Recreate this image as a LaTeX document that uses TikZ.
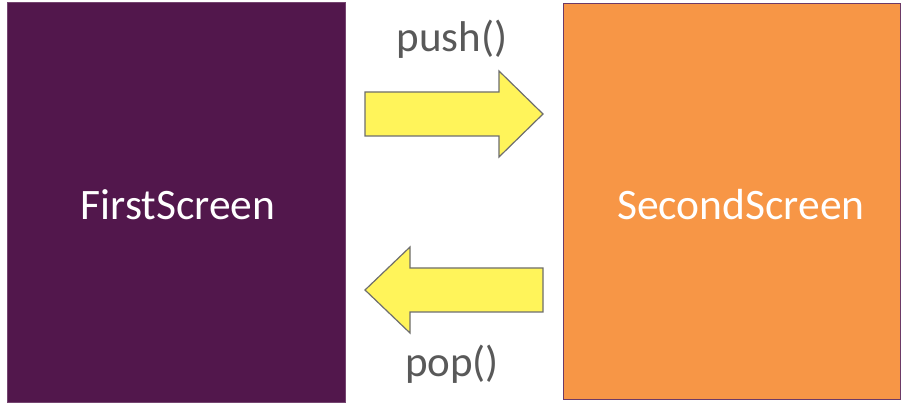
\documentclass[tikz,border=0pt]{standalone}
\usepackage{fontspec}
\setmainfont{Carlito}
\definecolor{firstpurple}{HTML}{52174C}
\definecolor{secondorange}{HTML}{F79646}
\definecolor{arrowyellow}{HTML}{FFF45A}
\definecolor{arrowedge}{HTML}{6E6E6E}
\definecolor{labelgray}{HTML}{595959}
\begin{document}
\begin{tikzpicture}[x=1pt,y=1pt,
  screenlabel/.style={text=white,font=\fontsize{43.5}{52}\selectfont,anchor=base,inner sep=0pt},
  oplabel/.style={text=labelgray,font=\fontsize{43}{52}\selectfont,anchor=base,inner sep=0pt},
  blockarrow/.style={fill=arrowyellow,draw=arrowedge,line width=1.2pt,line join=miter}]
\useasboundingbox (0,0) rectangle (902,404);
\fill[white] (0,0) rectangle (902,404);
% screens
\node[fill=firstpurple,draw=firstpurple!80!white,line width=0.8pt,minimum width=338pt,minimum height=400pt,inner sep=0pt,anchor=south west] (first) at (7,1) {};
\node[fill=secondorange,draw=firstpurple!85!white,line width=1pt,minimum width=337pt,minimum height=396pt,inner sep=0pt,anchor=south west] (second) at (563,4) {};
\node[screenlabel] (firstlabel) at (178,184) {FirstScreen};
\node[screenlabel] (secondlabel) at (741,184) {SecondScreen};
% push arrow
\draw[blockarrow] (365,312) -- (499,312) -- (499,333) -- (543,290) -- (499,247) -- (499,268) -- (365,268) -- cycle;
% pop arrow
\draw[blockarrow] (543,136) -- (410,136) -- (410,157) -- (365,114) -- (410,71) -- (410,92) -- (543,92) -- cycle;
\node[oplabel] (pushlabel) at (452,352) {push()};
\node[oplabel] (poplabel) at (452,27) {pop()};
\end{tikzpicture}
\end{document}
